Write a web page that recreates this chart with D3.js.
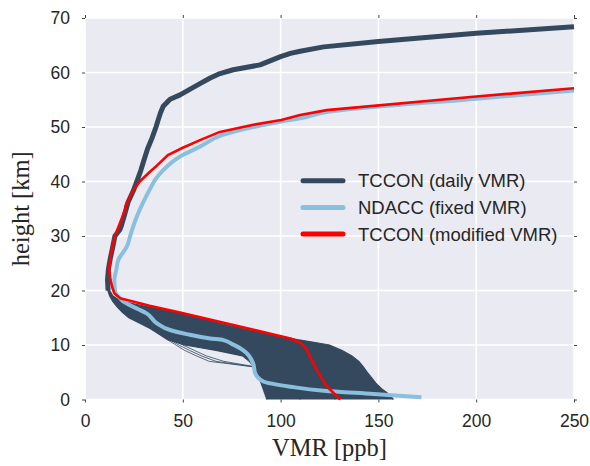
<html>
    <head>
        <script src="https://d3js.org/d3.v7.min.js"></script>
        <style>
            body { margin: 0; background: #fff; }
            text { font-family: "Liberation Sans", Arial, sans-serif; fill: #262626; }
            .lab { font-family: "Liberation Serif", "Times New Roman", serif; }
        </style>
    </head>
    <body>
        <svg height="466" width="590" id="chart"></svg>
    </body>
    <script>
        // axis ticks
        var xTicks = [0, 50, 100, 150, 200, 250]
        var yTicks = [0, 10, 20, 30, 40, 50, 60, 70]
        var seriesNames = ["TCCON (daily VMR)", "NDACC (fixed VMR)", "TCCON (modified VMR)"]
        var seriesColors = ["#34495e", "#8bbfde", "#ff0000"]

        // TCCON daily profiles below 22 km (they spread into a band)
        var bandHeights = [0, 1, 2, 3, 4, 5, 6, 7, 8, 9, 10, 10.5, 11, 12, 13, 14, 15, 16, 17, 18, 19, 20, 21, 22]
        var dailyRight = [157.7, 155.2, 151.6, 148.7, 146.5, 144.3, 142.3, 140, 136.5, 131.5, 125, 117, 108.5, 95, 80.5, 68.5, 58, 46, 32, 19, 14.3, 12.6, 12, 11.5]
        var dailyMid2 = [128, 126, 124.5, 123, 121.5, 120, 118.5, 116.5, 114, 110, 103, 96, 88, 70, 58, 49, 40, 32, 25, 17.5, 14, 12.3, 11.7, 11.4]
        var dailyMid1 = [110, 108.5, 107, 105.5, 104, 102.5, 101, 99, 96.5, 91, 82, 74, 66, 52, 42, 35, 29, 24, 20, 16.5, 13.5, 12, 11.5, 11.4]
        var dailyLeft = [93, 92, 91, 90, 89, 88, 86.5, 84, 80.5, 67, 51, 46.5, 42, 37.7, 33.5, 28, 22.4, 19.1, 16.4, 14.2, 12.6, 11.7, 11.3, 11.3]

        // a few daily profiles that stray to the left around 7-10 km
        var outlierHeights = [6, 7, 8, 9, 10, 11]
        var outlier1 = [86, 63.5, 57, 51, 46.5, 42]
        var outlier2 = [86.5, 67, 59.5, 53.5, 48, 43]
        var outlier3 = [87, 71, 62, 56, 50, 44]

        // TCCON daily profiles above 20 km (all nearly identical)
        var dailyUpperHeights = [20, 22, 24, 26, 28, 30, 31.2, 32, 34, 36.2, 38.3, 40, 42, 44, 46, 48, 50, 51.4, 52.6, 53.8, 55.1, 55.9, 57, 58, 59, 59.8, 60.5, 61.4, 62.9, 63.5, 63.9, 64.7, 65.7, 67.2, 68.4]
        var dailyUpperVmr = [11.8, 11.5, 12, 13, 14.2, 15.3, 17.9, 18.7, 20.3, 22, 24.7, 26.5, 28.5, 30.2, 32, 34.3, 36.3, 37.5, 38.6, 40, 43.5, 48.6, 54, 59, 64, 69, 75.8, 89.5, 100, 105, 110, 122, 150, 200, 250]

        // NDACC fixed profile
        var ndaccHeights = [0.4, 1.0, 1.6, 2.35, 3.3, 4.8, 6.6, 8.5, 9.4, 10.2, 10.9, 11.2, 12.0, 12.75, 14.0, 15.8, 16.6, 17.3, 18.0, 18.6, 19.3, 20.1, 21.9, 23.8, 25.6, 28, 30.5, 33.5, 36, 38.6, 40.4, 42.1, 44.6, 46.4, 48.5, 51, 51.6, 52.75, 55.2, 56.7]
        var ndaccVmr = [172, 147.5, 122, 105, 91.2, 87, 86, 82.7, 79.3, 75, 70.7, 64, 52, 43.5, 36.7, 31.5, 27, 23, 19.5, 17.9, 16, 15.3, 15, 16, 17, 21.3, 23.5, 26.4, 29.5, 33.2, 36, 40, 48.6, 58.8, 70, 100.3, 110, 123.6, 200, 250]

        // TCCON modified profile
        var modHeights = [0, 2.4, 5.4, 9.1, 10.0, 10.6, 11.2, 13.8, 16, 17.2, 18.1, 18.6, 19.5, 20.5, 22, 24, 26, 28, 30, 32, 34.8, 35.5, 36, 38.4, 40, 41.8, 43, 44.9, 46.2, 47.6, 49.1, 50.4, 51.3, 52.2, 53.1, 55.6, 57.1]
        var modVmr = [130.5, 123.6, 118.5, 113.4, 111.5, 109, 105, 74.2, 48, 33, 23, 17.9, 15, 14, 13, 12.3, 13, 14, 15.3, 17.5, 20.5, 20.8, 21.3, 24.7, 28, 33.2, 37, 42.6, 50, 58.8, 69, 86, 100.3, 110, 123.6, 200, 250]

        var svg = d3.select("#chart")
        var plotLeft = 85, plotRight = 574, plotTop = 18, plotBottom = 399.5

        var xScale = d3.scaleLinear().domain([0, 250]).range([plotLeft, plotRight])
        var yScale = d3.scaleLinear().domain([0, 70]).range([plotBottom, plotTop])

        // seaborn darkgrid background
        svg.append("rect")
            .attr("x", plotLeft).attr("y", plotTop)
            .attr("width", plotRight - plotLeft).attr("height", plotBottom - plotTop)
            .attr("fill", "#eaeaf2")

        var grid = svg.append("g")
        grid.selectAll(".vg").data(xTicks).enter().append("line")
            .attr("x1", function(d) { return xScale(d) }).attr("x2", function(d) { return xScale(d) })
            .attr("y1", plotTop).attr("y2", plotBottom)
            .attr("stroke", "#fff").attr("stroke-width", 1.6)
        grid.selectAll(".hg").data(yTicks).enter().append("line")
            .attr("y1", function(d) { return yScale(d) }).attr("y2", function(d) { return yScale(d) })
            .attr("x1", plotLeft).attr("x2", plotRight)
            .attr("stroke", "#fff").attr("stroke-width", 1.6)

        // axes: labels at bottom/left, tiny ticks on all four sides
        svg.append("g")
            .attr("transform", "translate(0," + plotBottom + ")")
            .call(d3.axisBottom(xScale).tickValues(xTicks).tickSize(3).tickPadding(12))
        svg.append("g")
            .attr("transform", "translate(" + plotLeft + ",0)")
            .call(d3.axisLeft(yScale).tickValues(yTicks).tickSize(3).tickPadding(12))
        svg.append("g").attr("transform", "translate(0," + plotTop + ")")
            .call(d3.axisTop(xScale).tickValues(xTicks).tickSize(3).tickFormat(""))
        svg.append("g").attr("transform", "translate(" + plotRight + ",0)")
            .call(d3.axisRight(yScale).tickValues(yTicks).tickSize(3).tickFormat(""))
        svg.selectAll(".domain").remove()
        svg.selectAll(".tick line").attr("stroke", "#444")
        svg.selectAll(".tick text").attr("font-size", "17.5px").attr("fill", "#262626")
            .attr("font-family", "Liberation Sans, Arial, sans-serif")

        // band of daily profiles
        var area = d3.area()
            .y(function(d, i) { return yScale(bandHeights[i]) })
            .x0(function(d, i) { return xScale(dailyLeft[i]) })
            .x1(function(d, i) { return xScale(dailyRight[i]) })
        svg.append("path").datum(bandHeights)
            .attr("d", area)
            .attr("fill", seriesColors[0])

        var bandLine = d3.line()
            .x(function(d) { return xScale(d[0]) })
            .y(function(d) { return yScale(d[1]) })
        var profiles = [dailyLeft, dailyMid1, dailyMid2, dailyRight]
        profiles.forEach(function(p) {
            svg.append("path")
                .datum(p.map(function(v, i) { return [v, bandHeights[i]] }))
                .attr("d", bandLine)
                .attr("fill", "none").attr("stroke", seriesColors[0]).attr("stroke-width", 1.2)
        })
        var outliers = [outlier1, outlier2, outlier3]
        outliers.forEach(function(p) {
            svg.append("path")
                .datum(p.map(function(v, i) { return [v, outlierHeights[i]] }))
                .attr("d", bandLine)
                .attr("fill", "none").attr("stroke", seriesColors[0]).attr("stroke-width", 0.8)
        })

        // upper part of the daily profiles
        svg.append("path")
            .datum(dailyUpperVmr.map(function(v, i) { return [v, dailyUpperHeights[i]] }))
            .attr("d", bandLine)
            .attr("fill", "none").attr("stroke", seriesColors[0]).attr("stroke-width", 5)
            .attr("stroke-linejoin", "round")

        // NDACC
        svg.append("path")
            .datum(ndaccVmr.map(function(v, i) { return [v, ndaccHeights[i]] }))
            .attr("d", bandLine.curve(d3.curveMonotoneY))
            .attr("fill", "none").attr("stroke", seriesColors[1]).attr("stroke-width", 4)
            .attr("stroke-linejoin", "round")

        // TCCON modified
        svg.append("path")
            .datum(modVmr.map(function(v, i) { return [v, modHeights[i]] }))
            .attr("d", bandLine.curve(d3.curveLinear))
            .attr("fill", "none").attr("stroke", seriesColors[2]).attr("stroke-width", 2.6)
            .attr("stroke-linejoin", "round")

        // legend
        var legend = svg.append("g")
        seriesNames.forEach(function(name, i) {
            var ly = 180.7 + i * 26.7
            legend.append("line")
                .attr("x1", 303).attr("x2", 343).attr("y1", ly).attr("y2", ly)
                .attr("stroke", seriesColors[i]).attr("stroke-width", 5).attr("stroke-linecap", "round")
            legend.append("text")
                .attr("x", 358).attr("y", ly + 6.6)
                .attr("font-size", "18.5px")
                .text(name)
        })

        // axis labels
        svg.append("text").attr("class", "lab")
            .attr("x", (plotLeft + plotRight) / 2).attr("y", 456)
            .attr("text-anchor", "middle").attr("font-size", "24.5px")
            .text("VMR [ppb]")
        svg.append("text").attr("class", "lab")
            .attr("transform", "translate(29," + (plotTop + plotBottom) / 2 + ") rotate(-90)")
            .attr("text-anchor", "middle").attr("font-size", "24.5px")
            .text("height [km]")
    </script>
</html>
